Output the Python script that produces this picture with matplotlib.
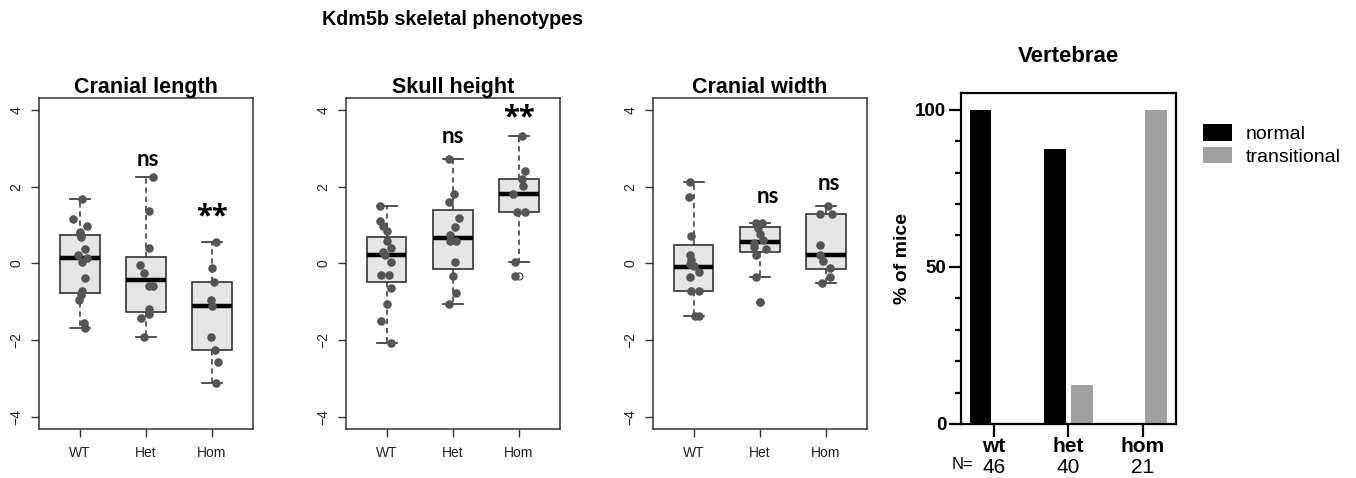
import matplotlib
matplotlib.use('Agg')
import matplotlib.pyplot as plt
import numpy as np
from matplotlib.ticker import MultipleLocator

plt.rcParams['font.family'] = ['Liberation Sans', 'DejaVu Sans']

# ---------------- data ----------------
groups = ['WT', 'Het', 'Hom']
panel_titles = ['Cranial length', 'Skull height', 'Cranial width']
suptitle = 'Kdm5b skeletal phenotypes'

# box statistics per group: (whislo, q1, med, q3, whishi)
cl_box = [(-1.68, -0.78, 0.14, 0.75, 1.68),
          (-1.93, -1.27, -0.44, 0.17, 2.26),
          (-3.13, -2.25, -1.11, -0.49, 0.56)]
sh_box = [(-2.07, -0.49, 0.23, 0.70, 1.50),
          (-1.07, -0.14, 0.65, 1.39, 2.72),
          (0.03, 1.34, 1.80, 2.19, 3.31)]
cw_box = [(-1.37, -0.73, -0.09, 0.47, 2.11),
          (-0.36, 0.30, 0.56, 0.94, 1.04),
          (-0.52, -0.15, 0.22, 1.29, 1.50)]
cl_fliers = [[], [], []]
sh_fliers = [[], [], [-0.32]]
cw_fliers = [[], [-1.00], []]

# individual mice (z-scores)
cl_wt = [1.68, 1.15, 0.97, 0.83, 0.76, 0.68, 0.38, 0.22, 0.15, 0.04, -0.39, -0.72, -0.83, -0.96, -1.55, -1.68]
cl_het = [2.26, 1.37, 0.39, -0.05, -0.26, -0.59, -0.60, -1.18, -1.31, -1.43, -1.93]
cl_hom = [0.56, -0.13, -0.49, -0.96, -1.11, -1.93, -2.25, -2.56, -3.13]
sh_wt = [1.50, 1.11, 0.97, 0.85, 0.57, 0.41, 0.30, 0.23, 0.03, -0.31, -0.31, -0.64, -1.07, -1.51, -2.07]
sh_het = [2.72, 1.81, 1.61, 1.18, 0.96, 0.74, 0.58, 0.57, 0.03, -0.32, -0.78, -1.07]
sh_hom = [3.31, 2.42, 2.19, 2.02, 1.80, 1.33, 1.33, 0.03, -0.32]
cw_wt = [2.11, 1.72, 0.71, 0.22, 0.09, -0.02, -0.07, -0.22, -0.36, -0.73, -0.73, -1.37, -1.37]
cw_het = [1.04, 1.04, 0.91, 0.77, 0.61, 0.54, 0.43, 0.37, 0.22, -0.36, -1.00]
cw_hom = [1.50, 1.29, 1.29, 0.49, 0.22, 0.07, -0.13, -0.35, -0.52]

# horizontal jitter of the points (as drawn)
cl_wt_j = [0.03, -0.10, 0.10, 0.0, 0.0, 0.01, 0.07, -0.03, 0.10, 0.03, 0.08, 0.03, 0.01, -0.01, 0.06, 0.08]
cl_het_j = [0.10, 0.05, 0.05, -0.09, -0.03, 0.05, 0.10, 0.05, 0.04, -0.07, -0.03]
cl_hom_j = [0.06, 0.0, 0.03, -0.01, 0.0, -0.02, 0.04, 0.09, 0.06]
sh_wt_j = [-0.10, -0.10, -0.06, 0.0, 0.0, 0.06, -0.05, -0.02, 0.06, -0.08, 0.03, 0.07, 0.0, -0.08, 0.06]
sh_het_j = [-0.06, 0.02, -0.05, 0.09, 0.03, -0.04, -0.04, 0.05, 0.04, 0.0, 0.05, -0.06]
sh_hom_j = [0.05, 0.10, 0.05, 0.06, -0.08, -0.02, 0.09, -0.05, -0.05]
cw_wt_j = [-0.05, -0.07, -0.04, -0.05, -0.04, -0.06, 0.0, 0.08, -0.06, -0.04, 0.08, 0.02, 0.08]
cw_het_j = [-0.06, 0.04, -0.03, 0.0, 0.05, -0.08, -0.08, 0.09, -0.06, -0.06, 0.0]
cw_hom_j = [0.03, -0.09, 0.09, -0.08, -0.09, -0.04, 0.06, 0.06, -0.06]

# significance labels per panel: (group index, text)
cl_sig = [(1, 'ns'), (2, '**')]
sh_sig = [(1, 'ns'), (2, '**')]
cw_sig = [(1, 'ns'), (2, 'ns')]

# vertebrae panel
vert_groups = ['wt', 'het', 'hom']
vert_n = [46, 40, 21]
normal_pct = [100, 87.5, 0]
trans_pct = [0, 12.5, 100]

# ---------------- figure ----------------
W, H = 1356, 478
fig = plt.figure(figsize=(W / 100, H / 100), dpi=100)

def px_axes(left, top, right, bottom):
    return fig.add_axes([left / W, 1 - bottom / H, (right - left) / W, (bottom - top) / H])

# label placement (x offset from group, y in data units): ns -> baseline, ** -> top
sig_place = [
    {1: (0.03, 2.54), 2: (0.0, 1.60)},
    {1: (0.0, 3.13), 2: (0.0, 4.18)},
    {1: (0.12, 1.57), 2: (0.05, 1.91)},
]

panels = [
    (39, cl_box, cl_fliers, [cl_wt, cl_het, cl_hom], [cl_wt_j, cl_het_j, cl_hom_j], cl_sig),
    (345.7, sh_box, sh_fliers, [sh_wt, sh_het, sh_hom], [sh_wt_j, sh_het_j, sh_hom_j], sh_sig),
    (652.7, cw_box, cw_fliers, [cw_wt, cw_het, cw_hom], [cw_wt_j, cw_het_j, cw_hom_j], cw_sig),
]

edge = '#333333'
for pi, (left, box, fl, pts, jit, sig) in enumerate(panels):
    ax = px_axes(left, 97.7, left + 214, 429)
    stats = []
    for b, f in zip(box, fl):
        stats.append(dict(whislo=b[0], q1=b[1], med=b[2], q3=b[3], whishi=b[4], fliers=f))
    pos = np.arange(1, 4)
    ax.bxp(stats, positions=pos, widths=0.6, capwidths=0.3, patch_artist=True,
           boxprops=dict(facecolor='#e5e5e5', edgecolor=edge, linewidth=1.2),
           medianprops=dict(color='black', linewidth=3.2, solid_capstyle='butt'),
           whiskerprops=dict(color=edge, linewidth=1.1, linestyle=(0, (3.5, 2.5))),
           capprops=dict(color=edge, linewidth=1.2),
           flierprops=dict(marker='o', markerfacecolor='none', markeredgecolor=edge,
                           markersize=5, markeredgewidth=0.8))
    for i, (v, j) in enumerate(zip(pts, jit)):
        ax.scatter(pos[i] + np.array(j), v, s=38, color='#555555', linewidths=0, zorder=4)
    for gi, txt in sig:
        dx, y = sig_place[pi][gi]
        if txt == '**':
            ax.text(pos[gi] + dx, y, txt, ha='center', va='top', fontsize=21,
                    fontweight='bold', family=['Open Sans', 'DejaVu Sans'], zorder=5)
        else:
            ax.text(pos[gi] + dx, y, txt, ha='center', va='baseline', fontsize=16,
                    fontweight='bold', family=['Lato', 'DejaVu Sans'], zorder=5)
    ax.set_xlim(0.38, 3.62)
    ax.set_ylim(-4.32, 4.32)
    ax.set_xticks(pos)
    ax.set_xticklabels(groups)
    ax.set_yticks([-4, -2, 0, 2, 4])
    ax.set_yticklabels(['−4', '−2', '0', '2', '4'])
    ax.tick_params(axis='both', length=6, width=1.0, color=edge, labelsize=10, labelcolor='#222222')
    ax.tick_params(axis='y', labelrotation=90, pad=5)
    ax.tick_params(axis='x', pad=6.5)
    for lbl in ax.get_yticklabels():
        lbl.set_va('center')
    for s in ax.spines.values():
        s.set_color(edge)
        s.set_linewidth(1.1)
    ax.set_title(panel_titles[pi], fontsize=15.5, fontweight='bold', pad=3.0)

fig.text(453 / W, 1 - 25 / H, suptitle, ha='center', va='baseline', fontsize=14.2, fontweight='bold')

# ---------------- vertebrae ----------------
ax4 = px_axes(961, 92.7, 1176, 424)
x = np.arange(len(vert_groups))
bw = 0.292
ax4.bar(x - 0.183, normal_pct, bw, color='black', label='normal')
ax4.bar(x + 0.183, trans_pct, bw, color='#a0a0a0', label='transitional')
ax4.set_xlim(-0.445, 2.45)
ax4.set_ylim(0, 105.4)
ax4.set_yticks([0, 50, 100])
ax4.yaxis.set_minor_locator(MultipleLocator(10))
ax4.set_xticks(x)
ax4.set_xticklabels(vert_groups)
for s in ax4.spines.values():
    s.set_linewidth(1.6)
    s.set_color('black')
ax4.tick_params(axis='y', which='major', length=9, width=1.6, pad=1.5, labelsize=13.5)
ax4.tick_params(axis='y', which='minor', length=4.5, width=1.6)
ax4.tick_params(axis='x', which='major', length=9, width=1.6, pad=0.5, labelsize=15)
for lbl in ax4.get_yticklabels() + ax4.get_xticklabels():
    lbl.set_fontweight('bold')
ax4.set_ylabel('% of mice', fontsize=14, fontweight='bold')
ax4.yaxis.set_label_coords(-0.2326, 0.5)
ax4.set_title('Vertebrae', fontsize=16, fontweight='bold', pad=22)
for xi, n in zip(x, vert_n):
    ax4.text(xi, -0.1475, str(n), transform=ax4.get_xaxis_transform(), ha='center',
             va='baseline', fontsize=15)
ax4.text(-0.28, -0.1350, 'N=', transform=ax4.get_xaxis_transform(), ha='right',
         va='baseline', fontsize=12)
ax4.legend(loc='upper left', bbox_to_anchor=(1203.3 / W, 1 - 124.4 / H),
           bbox_transform=fig.transFigure, frameon=False, fontsize=14,
           handlelength=1.5, handleheight=0.9, handletextpad=0.7, labelspacing=0.2,
           borderpad=0, borderaxespad=0)

fig.savefig('out.png', dpi=100)
